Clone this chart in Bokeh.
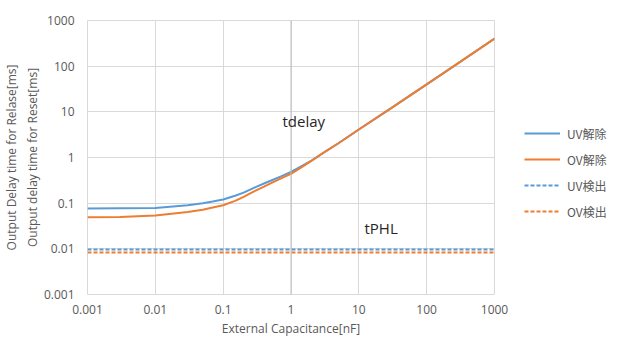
from bokeh.plotting import figure
from bokeh.models import (FixedTicker, CustomJSTickFormatter, Legend, LegendItem,
                          Span, Label)
from bokeh.embed import file_html
from bokeh.resources import INLINE

# ---- data ----
cap_nf = [0.001, 0.003, 0.01, 0.03, 0.05, 0.07, 0.1, 0.15, 0.2, 0.3, 0.4, 0.5,
          0.7, 1, 1.5, 2, 3, 5, 10, 30, 100, 300, 1000]
uv_release = [0.076, 0.077, 0.078, 0.090, 0.100, 0.109, 0.120, 0.145, 0.170,
              0.225, 0.270, 0.310, 0.380, 0.486, 0.670, 0.860, 1.27, 2.05,
              4.1, 12.1, 40, 120, 400]
ov_release = [0.049, 0.050, 0.0535, 0.064, 0.072, 0.080, 0.090, 0.112, 0.138,
              0.188, 0.230, 0.270, 0.345, 0.440, 0.640, 0.840, 1.26, 2.05,
              4.1, 12.1, 40, 120, 400]
det_x = [0.001, 1000]
uv_detect = [0.0097, 0.0097]
ov_detect = [0.0083, 0.0083]

x_ticks = [0.001, 0.01, 0.1, 1, 10, 100, 1000]
x_tick_labels = ["0.001", "0.01", "0.1", "1", "10", "100", "1000"]
y_ticks = [0.001, 0.01, 0.1, 1, 10, 100, 1000]
y_tick_labels = ["0.001", "0.01", "0.1", "1", "10", "100", "1000"]

series_names = ["UV解除", "OV解除", "UV検出", "OV検出"]
x_title = "External Capacitance[nF]"
y_title = "Output Delay time for Relase[ms]\nOutput delay time for Reset[ms]"

BLUE = "#5b9bd5"
ORANGE = "#ed7d31"
GRID = "#d9d9d9"
TXT = "#595959"
FONT = "Open Sans"

p = figure(x_axis_type="log", y_axis_type="log",
           x_range=(0.001, 1000), y_range=(0.001, 1000),
           output_backend="svg", toolbar_location=None,
           frame_width=407, frame_height=274,
           min_border_left=86, min_border_right=113,
           min_border_top=20, min_border_bottom=47)

p.background_fill_color = "white"
p.border_fill_color = "white"
p.outline_line_color = GRID
p.outline_line_width = 1

fmt_code = """
const i = tvals.findIndex(t => Math.abs(Math.log10(t) - Math.log10(tick)) < 1e-6);
return i >= 0 ? tlabels[i] : '';
"""
for ax, ticks, labels in ((p.xaxis[0], x_ticks, x_tick_labels),
                          (p.yaxis[0], y_ticks, y_tick_labels)):
    ax.ticker = FixedTicker(ticks=ticks, minor_ticks=[])
    ax.formatter = CustomJSTickFormatter(args=dict(tvals=ticks, tlabels=labels),
                                         code=fmt_code)
    ax.axis_line_color = None
    ax.major_tick_line_color = None
    ax.minor_tick_line_color = None
    ax.major_tick_out = 0
    ax.major_tick_in = 0
    ax.major_label_text_font = FONT
    ax.major_label_text_font_size = "12px"
    ax.major_label_text_color = TXT
    ax.axis_label_text_font = FONT
    ax.axis_label_text_font_size = "12px"
    ax.axis_label_text_font_style = "normal"
    ax.axis_label_text_color = TXT

p.xaxis.major_label_standoff = 10
p.xaxis.axis_label_standoff = 3
p.yaxis.major_label_standoff = 13
p.yaxis.axis_label_standoff = 0
p.xaxis.axis_label = x_title
p.yaxis.axis_label = y_title

for g in (p.xgrid[0], p.ygrid[0]):
    g.grid_line_color = GRID
    g.grid_line_width = 1
    g.ticker = FixedTicker(ticks=x_ticks)

p.add_layout(Span(location=1, dimension="height", line_color="#bfbfbf",
                  line_width=1))

r1 = p.line(cap_nf, uv_release, line_color=BLUE, line_width=2)
r2 = p.line(cap_nf, ov_release, line_color=ORANGE, line_width=2)
r3 = p.line(det_x, uv_detect, line_color=BLUE, line_width=2, line_dash="4 2")
r4 = p.line(det_x, ov_detect, line_color=ORANGE, line_width=2, line_dash="4 2")

p.add_layout(Label(x=0.75, y=6.4, text="tdelay", text_font=FONT,
                   text_font_size="15px", text_color="#262626",
                   text_baseline="alphabetic"))
p.add_layout(Label(x=12.1, y=0.028, text="tPHL", text_font=FONT,
                   text_font_size="15px", text_color="#262626",
                   text_baseline="alphabetic"))

legend = Legend(items=[LegendItem(label=n, renderers=[r])
                       for n, r in zip(series_names, (r1, r2, r3, r4))],
                location=(30, 73), padding=0, margin=0, spacing=6,
                glyph_width=36, glyph_height=20, label_height=20,
                label_standoff=7, border_line_color=None,
                background_fill_alpha=0,
                label_text_font="Noto Sans CJK JP",
                label_text_font_size="12px", label_text_color=TXT)
p.add_layout(legend, "right")

open("out.html", "w").write(file_html(p, INLINE))
